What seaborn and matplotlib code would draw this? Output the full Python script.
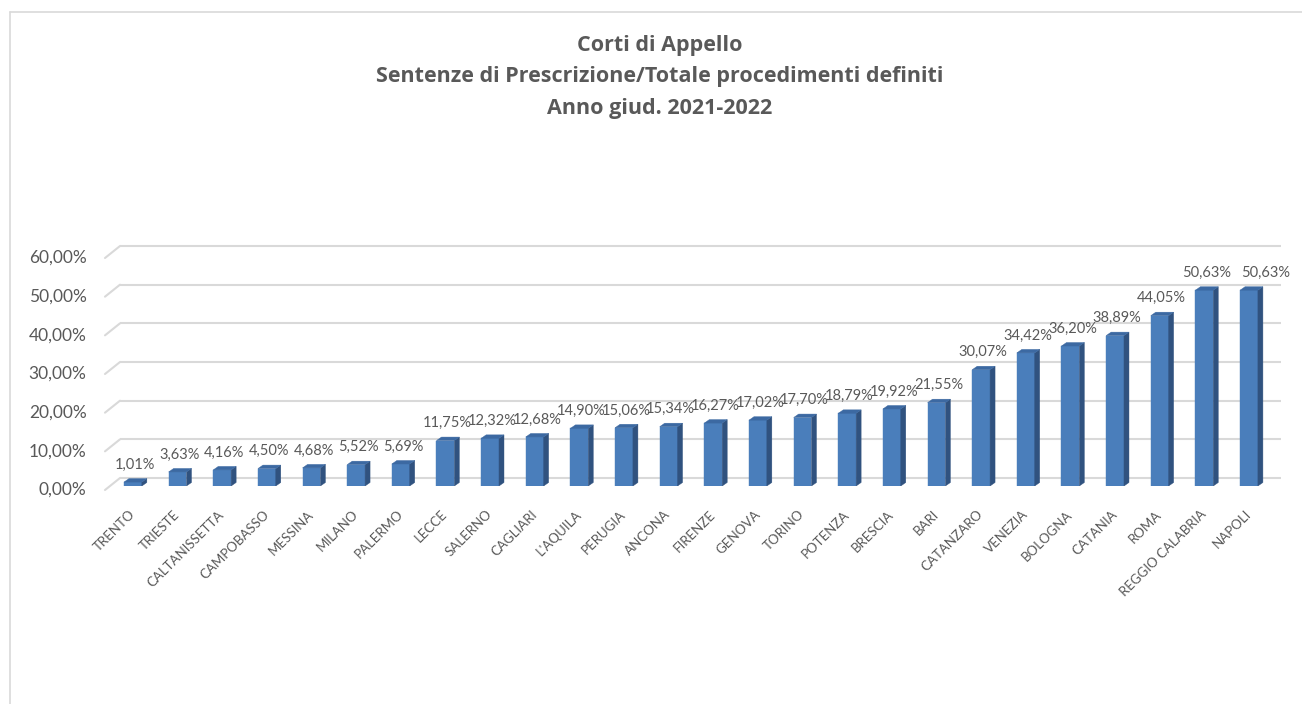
import numpy as np
import pandas as pd
import seaborn as sns
import matplotlib.pyplot as plt
from matplotlib import transforms
from matplotlib.patches import Polygon
from matplotlib.lines import Line2D

# --- data -----------------------------------------------------------------
corti = ["TRENTO", "TRIESTE", "CALTANISSETTA", "CAMPOBASSO", "MESSINA", "MILANO",
         "PALERMO", "LECCE", "SALERNO", "CAGLIARI", "L'AQUILA", "PERUGIA", "ANCONA",
         "FIRENZE", "GENOVA", "TORINO", "POTENZA", "BRESCIA", "BARI", "CATANZARO",
         "VENEZIA", "BOLOGNA", "CATANIA", "ROMA", "REGGIO CALABRIA", "NAPOLI"]
percentuali = [1.01, 3.63, 4.16, 4.50, 4.68, 5.52, 5.69, 11.75, 12.32, 12.68, 14.90,
               15.06, 15.34, 16.27, 17.02, 17.70, 18.79, 19.92, 21.55, 30.07, 34.42,
               36.20, 38.89, 44.05, 50.63, 50.63]
y_ticks = [0, 10, 20, 30, 40, 50, 60]
title_lines = ["Corti di Appello",
               "Sentenze di Prescrizione/Totale procedimenti definiti",
               "Anno giud. 2021-2022"]

df = pd.DataFrame({"corte": corti, "perc": percentuali})

# --- style ------------------------------------------------------------------
sns.set_theme(style="white")
plt.rcParams["font.family"] = ["Lato", "DejaVu Sans"]

TEXT = "#595959"
GRID = "#D9D9D9"
FRONT = "#4A7EBB"
SIDE = "#30527F"
TOP = "#3C69A2"

W, H, DPI = 1302, 704, 100
fig = plt.figure(figsize=(W / DPI, H / DPI), dpi=DPI)
fig.patch.set_facecolor("white")

# plot area in pixels (bar plane)
left_px, right_px = 110.6, 1271.3
zero_px, top_px = 486.0, 254.0
ax = fig.add_axes([left_px / W, (H - zero_px) / H,
                   (right_px - left_px) / W, (zero_px - top_px) / H])
ax.set_facecolor("none")

sns.barplot(data=df, x="corte", y="perc", ax=ax, color=FRONT, width=0.40,
            saturation=1, edgecolor=FRONT, linewidth=0.3, zorder=3)
ax.set_xlim(-0.5, len(corti) - 0.5)
ax.set_ylim(y_ticks[0], y_ticks[-1])
for s in ax.spines.values():
    s.set_visible(False)
ax.set_xlabel("")
ax.set_ylabel("")
ax.set_yticks(y_ticks)
ax.set_yticklabels([])
ax.tick_params(axis="y", length=0)
ax.tick_params(axis="x", length=0, pad=19)

# category labels, rotated like the Excel axis
ax.set_xticks(range(len(corti)))
ax.set_xticklabels(corti, rotation=45, ha="right", va="center",
                   rotation_mode="anchor", fontsize=9.5, color=TEXT)

# --- 3D floor / back-wall grid ------------------------------------------------
ytrans = ax.get_yaxis_transform()
back = transforms.offset_copy(ytrans, fig=fig, x=9.4, y=8, units="dots")
front = transforms.offset_copy(ytrans, fig=fig, x=-5.6, y=-4, units="dots")
label_tr = transforms.offset_copy(ytrans, fig=fig, x=-24, y=-4, units="dots")
for v in y_ticks:
    # back wall gridline
    ax.plot([0, 1], [v, v], transform=back, color=GRID, lw=1.5,
            clip_on=False, zorder=1, solid_capstyle="butt")
    # short perspective stub on the left side wall
    x0, y0 = front.transform((0, v))
    x1, y1 = back.transform((0, v))
    fig.add_artist(Line2D([x0 / W, x1 / W], [y0 / H, y1 / H], color=GRID, lw=1.5,
                          transform=fig.transFigure, zorder=1))
    # y tick label at the front edge
    ax.text(0, v, f"{v:.2f}%".replace(".", ","), transform=label_tr,
            ha="right", va="center", fontsize=12.5, color=TEXT, clip_on=False)

# --- 3D side and top faces of each column --------------------------------------
dpx, dpy = 5.0, 3.5
inv = ax.transData.inverted()
ox, oy = ax.transData.transform((0, 0))
ddx, ddy = inv.transform((ox + dpx, oy + dpy))
renderer = fig.canvas.get_renderer()
prev_bb, prev_val = None, None
for bar, val in zip(ax.patches, percentuali):
    x0 = bar.get_x()
    x1 = x0 + bar.get_width()
    h = bar.get_height()
    side = Polygon([(x1, 0), (x1, h), (x1 + ddx, h + ddy), (x1 + ddx, ddy)],
                   closed=True, facecolor=SIDE, edgecolor=SIDE, lw=0.3, zorder=3)
    top = Polygon([(x0, h), (x1, h), (x1 + ddx, h + ddy), (x0 + ddx, h + ddy)],
                  closed=True, facecolor=TOP, edgecolor=TOP, lw=0.3, zorder=3)
    ax.add_patch(side)
    ax.add_patch(top)
    dx_pt = 1.5
    lab = ax.annotate(f"{val:.2f}%".replace(".", ","),
                      xy=(x0 + bar.get_width() / 2, h),
                      xytext=(dx_pt, 12.5), textcoords="offset points",
                      ha="center", va="center", fontsize=10.5, color=TEXT,
                      annotation_clip=False, zorder=4)
    bb = lab.get_window_extent(renderer)
    # a label level with its neighbour's is moved right so the two stay apart
    if prev_val is not None and val == prev_val:
        shift_px = max(prev_bb.x1 - bb.x0, 0) + 10
        dx_pt += shift_px * 72 / DPI
        lab.xyann = (dx_pt, 12.5)
        bb = lab.get_window_extent(renderer)
    prev_bb, prev_val = bb, val

# --- title ------------------------------------------------------------------------
for i, line in enumerate(title_lines):
    fig.text(660 / W, 1 - (45 + 31.8 * i) / H, line, ha="center", va="center",
             fontsize=15.5, fontweight="bold", color=TEXT,
             family=["Open Sans", "DejaVu Sans"])

# chart area frame (top and left edges visible)
fig.add_artist(Line2D([9.5 / W, 1.0], [1 - 11.5 / H, 1 - 11.5 / H], color=GRID,
                      lw=1.2, transform=fig.transFigure))
fig.add_artist(Line2D([10 / W, 10 / W], [0, 1 - 11.5 / H], color=GRID,
                      lw=1.2, transform=fig.transFigure))

fig.savefig("out.png", dpi=DPI, facecolor="white")
